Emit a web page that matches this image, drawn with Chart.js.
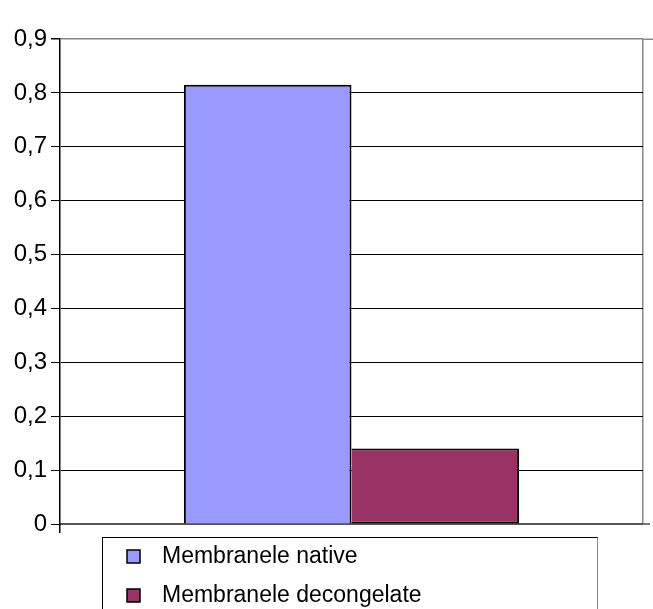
<!DOCTYPE html>
<html>
<head>
<meta charset="utf-8">
<style>
  html, body { margin: 0; padding: 0; background: #fff; }
  #wrap { width: 653px; height: 609px; position: relative; }
</style>
<script src="https://cdn.jsdelivr.net/npm/chart.js@4/dist/chart.umd.min.js"></script>
</head>
<body>
<div id="wrap"><canvas id="c" width="653" height="609"></canvas></div>
<script>
// Single category, two series
const categories = [''];
const seriesNames = ['Membranele native', 'Membranele decongelate'];
const nativeValues = [0.815];
const thawedValues = [0.14];
const seriesColors = ['#9999FF', '#993366'];
const yTickLabels = ['0', '0,1', '0,2', '0,3', '0,4', '0,5', '0,6', '0,7', '0,8', '0,9'];

const FONT = '"Liberation Sans", Arial, sans-serif';

// Top and bottom frame lines run on to the right edge of the canvas
const frameTails = {
  id: 'frameTails',
  afterDatasetsDraw(chart) {
    const { ctx, chartArea, scales } = chart;
    ctx.save();
    ctx.lineWidth = 1.5;
    ctx.strokeStyle = '#888';
    const yTop = Math.round(scales.y.getPixelForValue(0.9)) + 0.25;
    ctx.beginPath(); ctx.moveTo(chartArea.right, yTop); ctx.lineTo(chart.width, yTop); ctx.stroke();
    ctx.lineWidth = 2;
    ctx.strokeStyle = '#777';
    const yBot = scales.y.getPixelForValue(0);
    ctx.beginPath(); ctx.moveTo(chartArea.right, yBot); ctx.lineTo(chart.width - 3, yBot); ctx.stroke();
    ctx.restore();
  }
};

// Boxed legend listing the series one per row, below the plot
const boxLegend = {
  id: 'boxLegend',
  afterDraw(chart) {
    const ctx = chart.ctx;
    ctx.save();
    ctx.strokeStyle = '#000';
    ctx.lineWidth = 1;
    ctx.strokeRect(102.5, 537.5, 495, 80);
    ctx.strokeStyle = '#888';
    ctx.beginPath(); ctx.moveTo(597.5, 537.5); ctx.lineTo(597.5, 609); ctx.stroke();
    ctx.font = '23px ' + FONT;
    ctx.textBaseline = 'middle';
    chart.data.datasets.forEach((ds, i) => {
      const cy = 556 + i * 39;
      ctx.fillStyle = ds.backgroundColor;
      ctx.fillRect(127, cy - 6, 13, 13);
      ctx.strokeStyle = '#000';
      ctx.lineWidth = 1.5;
      ctx.strokeRect(127, cy - 6, 13, 13);
      ctx.fillStyle = '#000';
      ctx.fillText(ds.label, 162, cy + 1);
    });
    ctx.restore();
  }
};

new Chart(document.getElementById('c'), {
  type: 'bar',
  data: {
    labels: categories,
    datasets: [
      { label: seriesNames[0], data: nativeValues, backgroundColor: seriesColors[0], borderColor: '#000', borderWidth: 2 },
      // the shared edge is drawn once, by the first bar
      { label: seriesNames[1], data: thawedValues, backgroundColor: seriesColors[1], borderColor: '#000', borderWidth: 2, borderSkipped: 'left' }
    ]
  },
  options: {
    responsive: false,
    animation: false,
    devicePixelRatio: 1,
    layout: { padding: { left: 0, right: 10, top: 39, bottom: 76 } },
    datasets: { bar: { categoryPercentage: 0.575, barPercentage: 1.0 } },
    plugins: { legend: { display: false }, tooltip: { enabled: false } },
    scales: {
      x: {
        offset: true,
        ticks: { display: false },
        grid: {
          offset: true,
          tickLength: 9,
          lineWidth: 1.5,
          color: (c) => c.index === 0 ? 'rgba(0,0,0,0)' : '#888',
          tickColor: (c) => c.index === 0 ? '#000' : 'rgba(0,0,0,0)'
        },
        border: { display: true, color: '#555', width: 2 },
        afterFit: (s) => { s.height = 9; }
      },
      y: {
        min: 0, max: 0.9,
        ticks: {
          stepSize: 0.1,
          padding: 4,
          color: '#000',
          font: { family: FONT, size: 24 },
          callback: (v, i) => yTickLabels[i]
        },
        grid: {
          tickLength: 9,
          lineWidth: (c) => (c.tick && Math.abs(c.tick.value - 0.9) < 1e-6) ? 1.5 : 1,
          color: (c) => (c.tick && Math.abs(c.tick.value - 0.9) < 1e-6) ? '#888' : '#000',
          tickColor: '#000'
        },
        border: { display: true, color: '#000', width: 1.5 },
        afterFit: (s) => { s.width = 60; }
      }
    }
  },
  plugins: [frameTails, boxLegend]
});
</script>
</body>
</html>
